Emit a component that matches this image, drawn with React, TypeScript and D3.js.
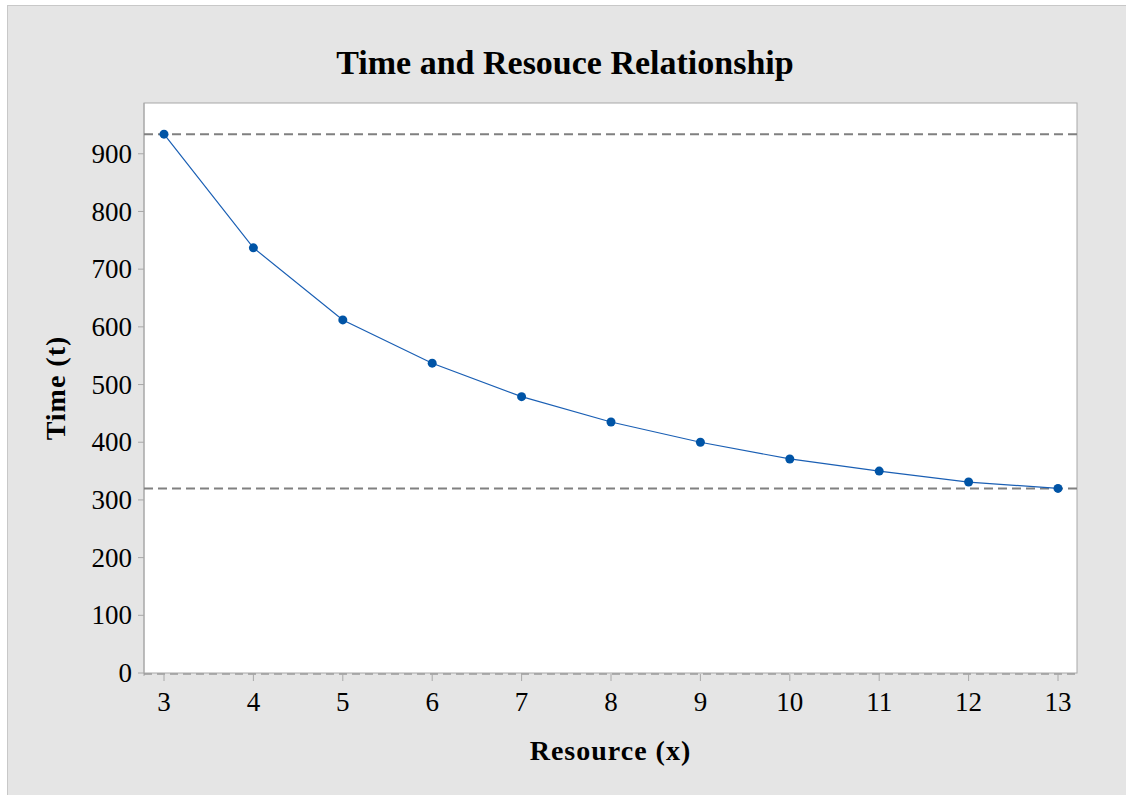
import React from 'react';
import * as d3 from 'd3';

// data
const resources = [3, 4, 5, 6, 7, 8, 9, 10, 11, 12, 13];
const times = [934, 737, 612, 537, 479, 435, 400, 371, 350, 331, 320];
const yTicks = [0, 100, 200, 300, 400, 500, 600, 700, 800, 900];
const xTicks = [3, 4, 5, 6, 7, 8, 9, 10, 11, 12, 13];

const W = 1126;
const H = 795;
const plot = { left: 144, top: 103, right: 1077, bottom: 673 };
const font = '"Liberation Serif", "Times New Roman", serif';

export default function App() {
  const x = d3.scaleLinear().domain([3, 13]).range([164, 1058]);
  const y = d3.scaleLinear().domain([0, 988]).range([plot.bottom, plot.top]);

  const pts = resources.map((r, i) => ({ r, t: times[i] }));
  const line = d3.line<{ r: number; t: number }>()
    .x(d => x(d.r))
    .y(d => y(d.t));

  const refLines = [d3.max(times) as number, d3.min(times) as number];
  const midX = (plot.left + plot.right) / 2;
  const midY = (plot.top + plot.bottom) / 2;

  return (
    <svg width={W} height={H} style={{ position: 'absolute', left: 0, top: 0 }}
         fontFamily={font}>
      <rect x={0} y={0} width={W} height={H} fill="#fff" />
      <rect x={7.5} y={5.5} width={W + 10} height={H + 10} fill="#e5e5e5" stroke="#c8c8c8" />

      <text x={565} y={74} textAnchor="middle" fontWeight="bold" fontSize={34}>
        Time and Resouce Relationship
      </text>

      <rect x={plot.left} y={plot.top} width={plot.right - plot.left}
            height={plot.bottom - plot.top} fill="#fff" stroke="#a8a8a8" />

      {/* y axis */}
      <line x1={plot.left} x2={plot.left} y1={plot.top} y2={plot.bottom + 3} stroke="#a8a8a8" />
      {yTicks.map(t => (
        <g key={t}>
          <line x1={plot.left - 6} x2={plot.left} y1={y(t)} y2={y(t)} stroke="#a8a8a8" />
          <text x={132} y={y(t)} dy="0.34em" textAnchor="end" fontSize={27}>{t}</text>
        </g>
      ))}

      {/* x axis */}
      <line x1={plot.left} x2={plot.right} y1={plot.bottom + 1} y2={plot.bottom + 1}
            stroke="#9a9a9a" strokeWidth={1.5} strokeDasharray="8 5" />
      {xTicks.map(t => (
        <g key={t}>
          <line x1={x(t)} x2={x(t)} y1={plot.bottom + 1} y2={plot.bottom + 8} stroke="#a8a8a8" />
          <text x={x(t)} y={711} textAnchor="middle" fontSize={27}>{t}</text>
        </g>
      ))}

      {/* reference lines */}
      {refLines.map(v => (
        <line key={v} x1={plot.left} x2={plot.right} y1={y(v)} y2={y(v)}
              stroke="#808080" strokeWidth={2} strokeDasharray="9 5" />
      ))}

      <path d={line(pts) || ''} fill="none" stroke="#1a5fb4" strokeWidth={1.2} />
      {pts.map(p => (
        <circle key={p.r} cx={x(p.r)} cy={y(p.t)} r={4.5} fill="#0054a6" />
      ))}

      <text x={midX} y={760} textAnchor="middle" fontWeight="bold" fontSize={28}
            letterSpacing={1}>Resource (x)</text>
      <text transform={`translate(65,${midY}) rotate(-90)`} textAnchor="middle"
            fontWeight="bold" fontSize={28} letterSpacing={1}>Time (t)</text>
    </svg>
  );
}
